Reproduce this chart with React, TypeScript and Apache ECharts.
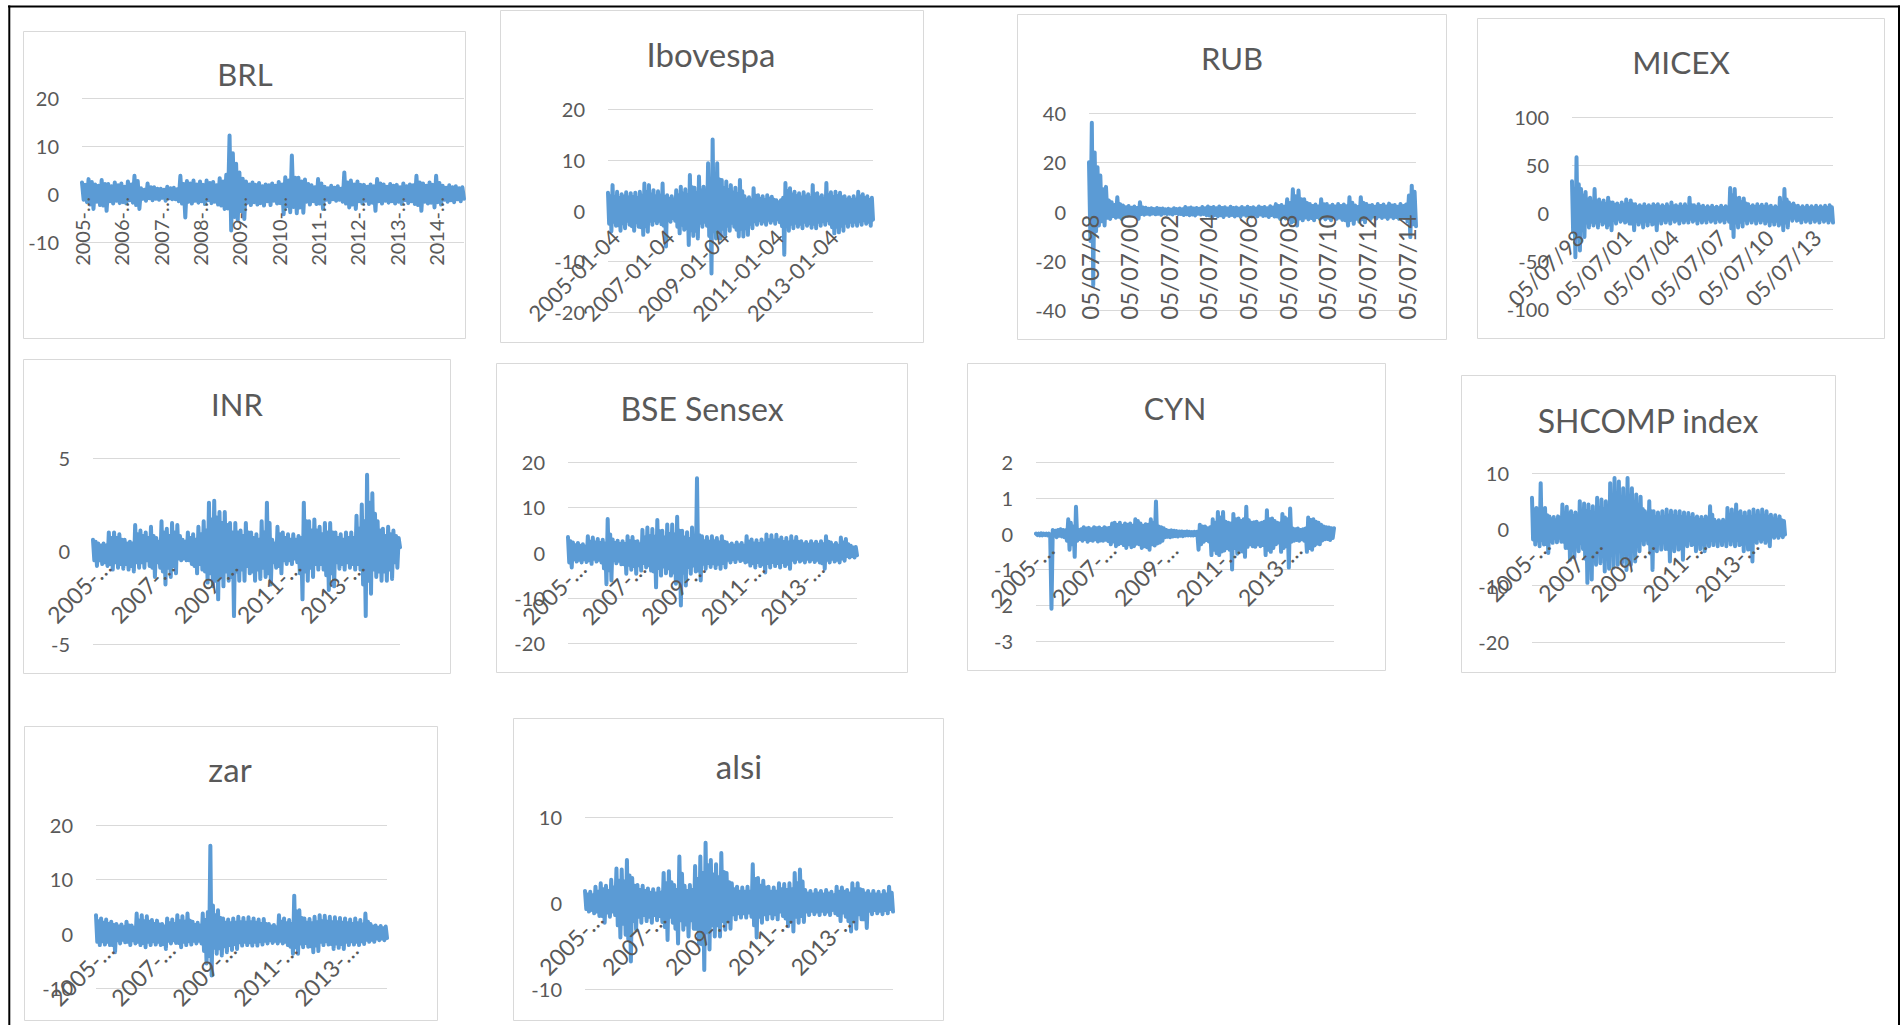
import React, { useEffect, useRef } from "react";
import * as echarts from "echarts";

// ---- daily return series (sampled), one array per market ----
const brlValues = [
  2.4, -1.2, 1.9, -1.7, 3.1, -2.2, 2.5, -3.1, 2.0, -1.6, 1.7, -2.3, 2.9, -2.4, 2.1, -3.5, 2.1, -1.5, 1.6, -2.0,
  2.4, -1.4, 1.8, -1.9, 2.2, -1.7, 1.5, -2.0, 2.6, -1.3, 2.0, -1.8, 3.8, -2.3, 2.7, -3.1, 1.2, -1.0, 0.9, -1.4,
  2.2, -0.9, 1.4, -1.3, 1.4, -1.0, 1.1, -1.2, 1.1, -0.8, 0.9, -1.4, 1.5, -0.9, 1.2, -1.1, 1.3, -1.1, 1.0, -1.5,
  3.8, -2.0, 2.1, -4.9, 2.7, -1.6, 2.2, -2.0, 2.8, -1.4, 2.0, -1.8, 2.6, -1.5, 1.9, -2.1, 2.8, -1.3, 2.3, -1.9,
  2.5, -1.6, 1.8, -2.2, 3.3, -2.4, 2.6, -3.1, 4.0, -3.0, 12.2, -7.6, 8.5, -4.8, 6.3, -5.5, 4.5, -3.6, 3.2, -5.2,
  2.6, -1.8, 2.0, -2.3, 2.4, -1.7, 1.9, -2.2, 2.3, -1.9, 1.6, -2.4, 2.0, -1.5, 1.8, -2.3, 2.2, -1.4, 1.7, -2.0,
  2.5, -1.9, 2.0, -4.2, 3.5, -2.6, 2.8, -3.8, 8.0, -2.7, 3.4, -4.0, 3.4, -2.8, 2.6, -3.9, 3.0, -1.6, 2.1, -2.2,
  1.8, -1.5, 1.4, -2.1, 3.1, -2.0, 2.2, -3.1, 1.5, -1.2, 1.2, -1.7, 1.7, -1.1, 1.3, -1.4, 1.6, -1.2, 1.1, -1.6,
  4.5, -2.0, 2.4, -2.8, 2.8, -2.2, 2.0, -3.1, 2.6, -1.5, 1.9, -2.0, 1.9, -1.4, 1.5, -2.1, 2.0, -1.8, 1.6, -3.5,
  3.1, -1.5, 2.2, -2.0, 2.0, -1.4, 1.5, -1.8, 2.1, -1.5, 1.7, -2.0, 1.9, -1.6, 1.4, -2.1, 2.2, -1.3, 1.6, -1.9,
  2.0, -1.5, 1.8, -2.1, 3.8, -2.3, 2.4, -3.5, 2.2, -1.6, 1.7, -2.0, 2.4, -1.8, 1.9, -2.8, 3.8, -1.7, 2.3, -2.2,
  1.7, -1.2, 1.3, -1.6, 1.8, -1.3, 1.4, -1.7, 1.6, -1.1, 1.2, -1.5, 1.4, -1.0,
];
const ibovespaValues = [
  3.5, -2.6, 2.8, -4.1, 5.0, -2.2, 2.6, -3.0, 3.7, -2.9, 2.4, -4.0, 3.2, -2.5, 2.7, -3.5, 3.6, -2.0, 2.5, -2.8,
  3.4, -3.1, 2.6, -4.0, 3.5, -2.3, 2.4, -3.2, 3.7, -3.3, 2.9, -4.8, 5.3, -3.1, 3.6, -4.2, 5.0, -2.0, 3.1, -2.8,
  4.0, -1.9, 2.7, -2.5, 3.8, -2.0, 2.9, -2.7, 5.3, -3.0, 2.6, -7.1, 3.0, -1.7, 2.2, -2.2, 2.8, -1.5, 2.1, -2.0,
  4.0, -3.2, 2.9, -4.5, 4.7, -2.8, 3.3, -3.8, 4.2, -3.5, 3.0, -6.8, 7.0, -3.9, 4.6, -5.0, 4.5, -4.0, 3.4, -5.5,
  6.7, -2.4, 3.9, -3.2, 4.7, -2.2, 3.5, -3.0, 9.3, -5.0, 6.0, -12.4, 14.0, -4.1, 7.2, -5.5, 9.3, -4.2, 6.1, -5.5,
  6.0, -3.6, 4.4, -4.8, 5.7, -3.0, 4.0, -4.0, 5.0, -2.4, 3.5, -3.2, 4.5, -3.8, 3.2, -5.1, 6.0, -3.6, 3.8, -5.1,
  2.8, -3.5, 2.1, -4.8, 2.6, -2.6, 2.0, -3.5, 4.4, -2.1, 2.9, -2.8, 3.0, -1.9, 2.2, -2.6, 2.8, -2.1, 2.0, -2.8,
  3.0, -1.8, 2.3, -2.4, 2.7, -1.9, 2.1, -2.6, 2.0, -1.7, 1.6, -2.3, 2.0, -3.1, 2.5, -8.7, 5.4, -3.0, 3.8, -4.0,
  4.4, -2.6, 3.1, -3.5, 3.7, -2.4, 2.8, -3.2, 3.4, -2.6, 2.5, -3.5, 3.6, -2.2, 2.7, -3.0, 3.2, -2.5, 2.4, -3.4,
  5.0, -2.6, 3.2, -3.5, 3.4, -2.2, 2.5, -3.0, 3.0, -2.1, 2.3, -2.8, 5.4, -1.9, 3.0, -2.6, 3.6, -3.3, 2.6, -4.5,
  3.7, -3.2, 2.8, -4.3, 3.5, -3.0, 2.6, -4.0, 2.8, -2.4, 2.1, -3.2, 2.6, -2.2, 2.0, -3.0, 2.8, -2.2, 2.1, -3.0,
  3.7, -2.1, 2.7, -2.8, 3.2, -1.9, 2.4, -2.6, 2.8, -2.2, 2.0, -3.0, 2.5, -1.8,
];
const rubValues = [
  20, -12, 36, -30, 24, -8, 18, -5.7, 14.6, -4.0, 9.0, -5.7, 10, -2.5, 4.5, -3.0, 3.8, -1.8, 2.6, -2.5,
  5.8, -2.1, 3.0, -3.0, 2.4, -1.2, 1.7, -1.6, 2.2, -1.0, 1.5, -1.4, 2.0, -1.6, 1.4, -3.0, 3.8, -1.0, 1.6, -1.3,
  1.5, -0.9, 1.1, -1.2, 1.3, -0.8, 1.0, -1.1, 1.4, -0.9, 1.1, -1.3, 1.2, -0.8, 0.9, -1.0, 1.1, -0.9, 0.8, -1.2,
  1.3, -0.7, 1.0, -1.0, 1.2, -1.0, 0.9, -1.4, 1.8, -1.1, 1.3, -1.5, 1.6, -1.2, 1.2, -1.6, 1.4, -0.9, 1.1, -1.2,
  1.8, -1.0, 1.3, -1.5, 2.0, -1.6, 1.5, -2.3, 1.8, -1.4, 1.3, -1.9, 2.0, -1.5, 1.4, -2.2, 1.7, -1.3, 1.2, -1.8,
  1.9, -1.4, 1.4, -2.0, 1.6, -1.5, 1.2, -2.1, 1.8, -1.2, 1.3, -1.7, 1.9, -1.5, 1.4, -2.0, 1.7, -1.3, 1.2, -1.9,
  2.0, -1.2, 1.5, -1.8, 1.8, -1.6, 1.3, -2.2, 2.1, -1.4, 1.6, -2.0, 3.0, -2.0, 2.2, -3.0, 2.6, -2.1, 1.9, -2.8,
  5.0, -3.0, 3.4, -4.5, 9.0, -4.0, 6.2, -5.7, 8.5, -2.8, 5.0, -3.6, 5.0, -2.4, 3.5, -3.2, 3.0, -2.6, 2.2, -3.6,
  2.8, -2.2, 2.0, -3.0, 5.0, -2.3, 2.9, -3.2, 3.0, -2.5, 2.1, -3.6, 2.7, -2.1, 2.0, -3.0, 3.0, -2.4, 2.2, -3.4,
  2.8, -3.6, 2.1, -5.7, 5.8, -3.4, 3.6, -5.0, 2.4, -2.9, 1.8, -4.2, 5.8, -3.1, 3.5, -4.4, 3.0, -2.2, 2.3, -3.0,
  2.6, -2.0, 1.9, -2.8, 3.0, -1.9, 2.2, -2.6, 2.8, -2.1, 2.0, -3.0, 3.2, -2.0, 2.4, -2.7, 2.6, -2.2, 1.9, -3.0,
  3.0, -1.8, 2.2, -2.5, 2.8, -4.0, 6.5, -10.4, 10.5, -5.2, 8.0, -6.0,
];
const micexValues = [
  33, -20, 25, -46, 58, -25, 30, -39, 25, -16, 18, -25, 22, -10, 14, -15, 16, -9, 11, -13,
  25, -10, 12, -15, 14, -8, 10, -12, 13, -10, 9, -15, 16, -12, 11, -18, 11, -7, 8, -11,
  10, -6, 7, -9, 11, -7, 8, -10, 14, -8, 9, -11, 13, -11, 9, -18, 9, -8, 6, -12,
  8, -9, 6, -15, 9, -8, 6, -13, 8, -8, 6, -12, 9, -11, 7, -18, 9, -7, 6, -11,
  8, -7, 6, -10, 9, -7, 6, -11, 11, -6, 7, -9, 8, -7, 6, -11, 9, -7, 6, -10,
  9, -7, 6, -10, 16, -6, 8, -9, 8, -7, 6, -11, 9, -7, 6, -10, 7.5, -7, 5, -10,
  7, -6, 5, -9, 7.5, -7, 5, -10, 6.5, -6, 5, -9, 7.5, -7, 5, -10, 7, -6, 5, -9,
  26, -16, 18, -25, 25, -10, 15, -15, 16, -9, 11, -14, 15, -7, 10, -11, 9, -7, 6, -10,
  8, -7, 6, -11, 9, -7, 6, -10, 8.5, -7, 6, -11, 9, -8, 6, -13, 7.5, -8, 5, -12,
  7, -8, 5, -13, 16, -11, 10, -18, 25, -10, 14, -15, 11, -5, 8, -8, 10, -5, 7, -8,
  7.5, -7, 5, -10, 7, -6, 5, -9, 7.5, -7, 5, -10, 7, -6, 5, -9, 7.5, -7, 5, -10,
  7, -6, 5, -9, 7.5, -7, 5, -10, 8, -7, 6, -10,
];
const inrValues = [
  0.6, -0.5, 0.5, -0.8, 0.4, -0.5, 0.3, -0.7, 0.4, -0.6, 0.3, -0.8, 1.0, -0.7, 0.7, -1.0, 1.0, -0.6, 0.7, -0.9,
  0.9, -0.7, 0.6, -0.95, 0.6, -0.7, 0.4, -1.0, 0.5, -0.8, 0.4, -1.1, 1.4, -0.6, 0.9, -0.9, 1.1, -0.6, 0.8, -0.9,
  1.0, -0.5, 0.7, -0.8, 1.3, -0.9, 0.8, -1.4, 0.7, -0.6, 0.5, -0.9, 1.6, -1.1, 1.0, -1.8, 1.2, -0.9, 0.8, -1.4,
  1.5, -0.8, 1.0, -1.2, 1.4, -0.4, 0.8, -0.5, 0.6, -0.4, 0.5, -0.5, 1.0, -0.5, 0.7, -0.7, 0.9, -0.8, 0.6, -1.2,
  1.3, -0.7, 0.9, -1.0, 1.6, -1.1, 1.1, -1.7, 2.6, -1.2, 1.7, -1.9, 2.7, -1.6, 1.8, -2.6, 2.1, -1.3, 1.5, -1.9,
  2.1, -1.1, 1.4, -1.6, 1.5, -1.4, 1.0, -3.5, 1.5, -1.1, 1.0, -1.6, 1.1, -1.0, 0.8, -1.6, 1.5, -0.8, 1.0, -1.2,
  1.0, -1.1, 0.7, -1.6, 0.9, -1.0, 0.6, -1.5, 1.6, -0.9, 1.0, -1.4, 2.6, -1.2, 1.5, -1.8, 0.6, -0.6, 0.4, -0.9,
  1.3, -0.8, 0.9, -1.2, 1.0, -0.5, 0.7, -0.7, 0.9, -0.5, 0.6, -0.7, 0.9, -0.4, 0.6, -0.6, 0.8, -1.2, 0.7, -2.6,
  2.6, -1.1, 1.6, -1.6, 1.6, -0.9, 1.1, -1.4, 1.7, -0.7, 1.1, -1.0, 1.3, -0.7, 0.9, -1.0, 1.5, -1.3, 1.0, -2.1,
  1.5, -1.2, 1.0, -1.9, 1.0, -0.6, 0.7, -0.95, 0.9, -0.7, 0.6, -1.0, 1.0, -0.6, 0.7, -0.9, 1.0, -0.7, 0.7, -1.0,
  1.9, -0.7, 1.2, -1.0, 2.5, -1.8, 1.6, -3.5, 4.1, -1.6, 2.6, -2.3, 3.1, -1.0, 2.0, -1.4, 1.6, -1.1, 1.1, -1.6,
  1.2, -1.1, 0.8, -1.6, 1.3, -1.0, 0.9, -1.5, 1.1, -0.6, 0.8, -0.9, 0.7, 0.2,
];
const bseValues = [
  3.4, -2.2, 2.5, -3.3, 2.2, -1.5, 1.6, -2.0, 2.1, -1.6, 1.5, -2.2, 1.8, -1.5, 1.3, -2.1, 3.6, -1.7, 2.4, -2.5,
  3.3, -1.4, 2.2, -2.0, 3.0, -1.6, 2.1, -2.2, 2.8, -3.5, 2.0, -7.0, 7.4, -3.9, 4.0, -6.2, 2.9, -1.7, 2.1, -2.4,
  2.6, -1.8, 1.9, -2.6, 2.5, -2.6, 1.9, -4.7, 3.6, -2.7, 2.5, -3.8, 3.4, -3.0, 2.4, -4.7, 2.5, -2.8, 1.8, -4.0,
  5.0, -2.3, 3.3, -3.3, 5.5, -2.8, 3.6, -4.0, 5.2, -4.2, 3.5, -7.7, 7.2, -3.4, 4.7, -5.1, 4.8, -3.1, 3.3, -4.6,
  6.2, -3.5, 4.1, -5.1, 6.2, -4.4, 4.0, -6.9, 7.9, -6.0, 4.8, -11.7, 4.8, -4.5, 3.3, -7.3, 4.5, -3.2, 3.0, -4.7,
  5.5, -2.9, 3.6, -4.2, 16.4, -4.0, 3.8, -6.2, 3.6, -2.5, 2.5, -3.6, 3.4, -2.3, 2.4, -3.2, 3.6, -2.4, 2.5, -3.4,
  3.2, -2.5, 2.2, -3.6, 3.6, -2.3, 2.4, -3.3, 2.2, -1.6, 1.6, -2.2, 2.0, -1.5, 1.5, -2.1, 2.2, -1.3, 1.6, -1.9,
  2.1, -1.6, 1.5, -2.2, 3.6, -2.0, 2.4, -2.9, 2.9, -2.3, 2.0, -3.3, 2.7, -2.1, 1.9, -3.0, 2.9, -2.6, 2.0, -4.4,
  4.0, -2.3, 2.7, -3.3, 3.8, -2.1, 2.6, -3.0, 3.9, -2.3, 2.7, -3.3, 3.3, -2.1, 2.3, -3.0, 3.2, -2.5, 2.2, -3.6,
  3.6, -1.6, 2.4, -2.2, 3.4, -1.4, 2.3, -2.0, 2.5, -1.6, 1.8, -2.2, 2.3, -1.4, 1.7, -2.0, 2.5, -1.5, 1.8, -2.1,
  2.4, -1.6, 1.7, -2.2, 2.5, -2.4, 1.8, -3.6, 3.6, -1.6, 2.4, -2.2, 2.2, -1.4, 1.6, -2.0, 2.1, -1.6, 1.5, -2.2,
  3.3, -1.3, 2.2, -1.8, 3.0, -0.8, 1.8, -1.1, 1.5, -0.8, 1.1, -1.1, 1.2, -0.6,
];
const cynValues = [
  0.0, -0.04, 0.0, -0.05, 0.01, -0.05, 0.0, -0.04, 0.0, -0.05, 0.0, -0.05, -2.1, 0.1, -0.05, 0.08, -0.1, 0.1, -0.06, 0.12,
  -0.08, 0.1, -0.1, 0.09, -0.2, 0.4, -0.45, 0.3, -0.3, 0.2, -0.65, 0.75, -0.2, 0.1, -0.15, 0.12, -0.2, 0.18, -0.15, 0.14,
  -0.23, 0.16, -0.18, 0.12, -0.2, 0.18, -0.16, 0.15, -0.22, 0.17, -0.19, 0.13, -0.2, 0.18, -0.17, 0.15, -0.21, 0.16, -0.3, 0.28,
  -0.22, 0.3, -0.35, 0.24, -0.3, 0.3, -0.26, 0.22, -0.32, 0.28, -0.4, 0.25, -0.3, 0.28, -0.38, 0.22, -0.35, 0.4, -0.28, 0.35,
  -0.3, 0.28, -0.4, 0.22, -0.35, 0.26, -0.38, 0.25, -0.45, 0.4, -0.3, 0.3, -0.33, 0.9, -0.28, 0.2, -0.25, 0.18, -0.2, 0.15,
  -0.1, 0.1, -0.09, 0.08, -0.1, 0.09, -0.08, 0.08, -0.07, 0.07, -0.08, 0.06, -0.06, 0.06, -0.07, 0.05, -0.05, 0.06, -0.05, 0.05,
  -0.05, 0.04, -0.05, 0.05, -0.04, 0.05, -0.45, 0.25, -0.3, 0.2, -0.23, 0.2, -0.18, 0.15, -0.22, 0.18, -0.6, 0.4, -0.45, 0.3,
  -0.55, 0.6, -0.6, 0.45, -0.5, 0.6, -0.47, 0.33, -0.4, 0.3, -0.45, 0.28, -1.0, 0.55, -0.4, 0.4, -0.56, 0.42, -0.45, 0.35,
  -0.5, 0.4, -0.65, 0.75, -0.37, 0.37, -0.3, 0.3, -0.35, 0.32, -0.37, 0.33, -0.3, 0.28, -0.35, 0.3, -0.32, 0.33, -0.6, 0.65,
  -0.45, 0.4, -0.51, 0.42, -0.4, 0.35, -0.3, 0.3, -0.25, 0.28, -0.51, 0.55, -0.4, 0.45, -0.35, 0.4, -0.95, 0.7, -0.23, 0.14,
  -0.2, 0.12, -0.18, 0.14, -0.2, 0.1, -0.16, 0.12, -0.2, 0.14, -0.51, 0.45, -0.4, 0.38, -0.45, 0.4, -0.33, 0.33, -0.28, 0.3,
  -0.3, 0.25, -0.19, 0.2, -0.16, 0.18, -0.15, 0.17, -0.18, 0.15, -0.12, 0.15,
];
const shcompValues = [
  5.6, -1.8, 3.5, -2.7, 3.8, -2.0, 2.6, -3.0, 8.2, -1.9, 3.0, -2.7, 3.8, -2.6, 2.5, -4.2, 2.3, -1.6, 1.7, -2.4,
  2.2, -1.5, 1.6, -2.3, 2.3, -1.5, 1.7, -2.2, 4.4, -2.2, 2.9, -3.3, 4.0, -3.3, 2.8, -5.4, 3.2, -3.1, 2.3, -5.0,
  3.0, -2.6, 2.1, -3.9, 5.0, -2.4, 3.3, -3.5, 4.6, -5.2, 3.1, -9.5, 4.4, -5.0, 3.0, -8.9, 4.1, -3.9, 2.8, -6.3,
  5.6, -3.8, 3.7, -6.0, 5.3, -4.6, 3.6, -7.5, 5.0, -4.3, 3.4, -7.0, 8.2, -4.1, 5.1, -6.8, 9.1, -3.9, 5.6, -6.3,
  8.5, -3.7, 5.4, -6.0, 7.3, -4.4, 4.7, -7.2, 9.1, -3.9, 5.7, -6.3, 7.3, -3.6, 4.7, -5.7, 6.2, -2.6, 4.0, -3.9,
  5.8, -1.9, 3.6, -2.7, 3.2, -1.8, 2.3, -2.5, 5.0, -4.3, 3.2, -7.2, 3.2, -2.6, 2.2, -3.9, 3.0, -2.4, 2.1, -3.6,
  3.2, -2.3, 2.2, -3.5, 3.5, -3.5, 2.4, -5.7, 3.3, -2.6, 2.3, -3.9, 3.2, -2.4, 2.2, -3.6, 3.2, -3.3, 2.2, -5.4,
  3.0, -2.1, 2.1, -3.0, 2.9, -1.9, 2.0, -2.8, 2.7, -2.6, 1.9, -3.9, 2.3, -2.4, 1.6, -3.5, 2.2, -2.6, 1.6, -3.9,
  2.3, -2.0, 1.6, -3.0, 4.1, -1.9, 2.6, -2.8, 1.7, -2.0, 1.2, -3.0, 1.6, -1.9, 1.2, -2.8, 1.7, -2.0, 1.2, -3.0,
  3.8, -1.8, 2.5, -2.7, 3.5, -2.0, 2.4, -3.0, 4.4, -1.9, 2.8, -2.8, 3.2, -2.6, 2.2, -3.9, 3.0, -2.4, 2.1, -3.6,
  3.2, -3.5, 2.2, -5.7, 3.5, -1.7, 2.4, -2.4, 3.3, -1.6, 2.2, -2.2, 3.5, -1.7, 2.4, -2.4, 3.2, -2.0, 2.2, -3.0,
  2.6, -1.1, 1.8, -1.5, 2.5, -1.1, 1.7, -1.5, 2.3, -1.0, 1.6, -1.4, 1.5, -0.9,
];
const zarValues = [
  3.4, -1.5, 2.3, -2.1, 2.8, -1.4, 2.0, -2.0, 2.6, -1.5, 1.8, -2.1, 2.2, -2.1, 1.6, -3.4, 1.8, -1.2, 1.3, -1.8,
  1.7, -1.1, 1.2, -1.6, 2.2, -1.5, 1.5, -2.1, 1.5, -1.2, 1.1, -1.8, 3.7, -1.5, 2.4, -2.1, 3.4, -1.7, 2.3, -2.5,
  3.2, -1.5, 2.2, -2.1, 2.5, -1.4, 1.8, -2.0, 2.4, -1.5, 1.7, -2.1, 1.8, -1.9, 1.3, -2.8, 2.8, -1.3, 1.9, -1.8,
  2.6, -1.2, 1.8, -1.7, 3.4, -1.7, 2.3, -2.5, 3.2, -1.5, 2.2, -2.1, 3.7, -1.4, 2.4, -2.0, 2.2, -1.3, 1.6, -1.8,
  2.0, -1.3, 1.5, -1.8, 3.7, -3.2, 2.5, -5.5, 4.0, -4.1, 16.2, -7.7, 5.2, -2.6, 3.4, -3.7, 4.3, -2.7, 2.9, -4.0,
  2.8, -2.3, 2.0, -3.4, 2.6, -2.1, 1.9, -3.0, 2.8, -1.9, 2.0, -2.8, 3.1, -1.6, 2.1, -2.2, 2.9, -1.5, 2.0, -2.1,
  3.0, -1.6, 2.1, -2.2, 2.8, -1.5, 2.0, -2.2, 2.6, -1.4, 1.8, -2.0, 2.7, -1.3, 1.8, -1.8, 1.8, -1.2, 1.3, -1.7,
  1.6, -1.3, 1.2, -1.8, 3.4, -1.3, 2.2, -1.8, 2.8, -1.5, 1.9, -2.1, 2.5, -2.4, 1.8, -3.7, 7.0, -2.5, 4.1, -3.7,
  4.3, -1.8, 2.9, -2.5, 2.8, -1.7, 2.0, -2.4, 2.7, -2.3, 1.9, -3.4, 3.1, -2.2, 2.1, -3.2, 3.4, -1.5, 2.3, -2.1,
  3.3, -1.4, 2.2, -2.0, 3.1, -1.9, 2.1, -2.8, 3.0, -1.8, 2.1, -2.6, 2.9, -1.9, 2.0, -2.8, 2.8, -1.5, 1.9, -2.1,
  2.6, -1.4, 1.8, -2.0, 2.8, -1.5, 1.9, -2.1, 2.5, -1.4, 1.7, -1.9, 3.7, -1.1, 2.2, -1.5, 1.8, -1.1, 1.3, -1.5,
  1.5, -0.9, 1.1, -1.2, 1.4, -0.9, 1.0, -1.2, 1.3, -0.8,
];
const alsiValues = [
  1.4, -0.7, 1.0, -1.0, 1.3, -0.8, 0.9, -1.2, 1.9, -1.0, 1.3, -1.5, 2.3, -1.5, 1.6, -2.3, 2.0, -1.1, 1.4, -1.6,
  2.7, -1.0, 1.8, -1.4, 4.0, -2.6, 2.6, -4.0, 3.9, -2.4, 2.5, -3.7, 5.0, -4.2, 3.2, -6.8, 2.9, -2.1, 2.0, -3.1,
  2.1, -1.6, 1.5, -2.3, 2.0, -1.4, 1.4, -2.1, 1.7, -1.6, 1.2, -2.3, 1.6, -1.4, 1.1, -2.0, 1.7, -1.5, 1.2, -2.2,
  3.5, -2.8, 2.3, -4.3, 3.7, -1.6, 2.4, -2.3, 2.1, -3.0, 1.5, -4.7, 5.4, -2.0, 3.4, -3.1, 2.0, -2.5, 1.4, -3.9,
  2.1, -2.0, 1.5, -3.0, 4.3, -3.0, 2.8, -4.7, 5.4, -4.8, 3.5, -7.8, 7.0, -3.4, 4.4, -5.4, 5.0, -2.6, 3.3, -3.9,
  4.5, -2.6, 3.0, -3.9, 5.8, -2.1, 3.6, -3.1, 3.5, -2.0, 2.4, -3.0, 2.3, -1.3, 1.6, -1.9, 1.9, -1.2, 1.3, -1.7,
  1.8, -1.2, 1.3, -1.7, 1.9, -1.1, 1.3, -1.6, 4.5, -2.6, 2.8, -4.0, 2.9, -1.6, 2.0, -2.3, 2.6, -1.3, 1.8, -1.9,
  1.9, -1.2, 1.3, -1.8, 1.8, -1.3, 1.3, -1.9, 2.3, -1.0, 1.6, -1.5, 2.2, -1.8, 1.5, -2.7, 2.3, -2.2, 1.6, -3.3,
  3.5, -1.6, 2.3, -2.3, 3.9, -1.5, 2.5, -2.2, 1.5, -1.0, 1.1, -1.4, 1.4, -0.9, 1.0, -1.3, 1.5, -1.0, 1.1, -1.4,
  1.4, -0.9, 1.0, -1.3, 1.5, -1.0, 1.1, -1.4, 1.3, -0.8, 0.9, -1.2, 1.9, -1.4, 1.3, -2.1, 1.8, -1.1, 1.3, -1.6,
  1.5, -2.1, 1.1, -3.3, 2.3, -2.0, 1.6, -3.0, 2.3, -1.3, 1.6, -1.9, 1.5, -1.9, 1.1, -2.9, 1.4, -0.9, 1.0, -1.3,
  1.4, -0.8, 1.0, -1.2, 1.3, -0.9, 0.9, -1.3, 1.4, -0.8, 1.0, -1.2, 1.9, -0.7, 1.2, -1.0,
];

// ---- axis tick labels ----
const brlTicks = ["2005-…", "2006-…", "2007-…", "2008-…", "2009-…", "2010-…", "2011-…", "2012-…", "2013-…", "2014-…"];
const ibovespaTicks = ["2005-01-04", "2007-01-04", "2009-01-04", "2011-01-04", "2013-01-04"];
const rubTicks = ["05/07/98", "05/07/00", "05/07/02", "05/07/04", "05/07/06", "05/07/08", "05/07/10", "05/07/12", "05/07/14"];
const micexTicks = ["05/07/98", "05/07/01", "05/07/04", "05/07/07", "05/07/10", "05/07/13"];
const biennialTicks = ["2005-…", "2007-…", "2009-…", "2011-…", "2013-…"];

// ---- panel layout (pixels) ----
type Panel = {
  name: string;
  values: number[];
  ticks: string[];
  step: number; // samples between labelled ticks
  y: [number, number, number];
  rotate: number;
  label: [number, number, number]; // font size, margin, top padding
  box: [number, number, number, number];
  grid: [number, number, number, number];
  title: [number, number, number];
};

const panels: Panel[] = [
  { name: "BRL", values: brlValues, ticks: brlTicks, step: 24, y: [-10, 20, 10], rotate: 90, label: [20, 3, 0],
    box: [23, 31, 442, 307], grid: [82, 98, 382, 144], title: [245, 74, 31] },
  { name: "Ibovespa", values: ibovespaValues, ticks: ibovespaTicks, step: 48, y: [-20, 20, 10], rotate: 45, label: [22, 15, 0],
    box: [500, 10, 423, 332], grid: [608, 109, 265, 203], title: [711, 54, 33] },
  { name: "RUB", values: rubValues, ticks: rubTicks, step: 28, y: [-40, 40, 20], rotate: 90, label: [24, 3, 0],
    box: [1017, 14, 429, 325], grid: [1089, 113, 327, 197], title: [1232, 58, 31] },
  { name: "MICEX", values: micexValues, ticks: micexTicks, step: 42, y: [-100, 100, 50], rotate: 45, label: [22, 13, 0],
    box: [1477, 18, 407, 320], grid: [1572, 117, 261, 192], title: [1681, 62, 31.5] },
  { name: "INR", values: inrValues, ticks: biennialTicks, step: 48, y: [-5, 5, 5], rotate: 45, label: [23, -2, 8],
    box: [23, 359, 427, 314], grid: [93, 458, 307, 186], title: [237, 404, 31] },
  { name: "BSE Sensex", values: bseValues, ticks: biennialTicks, step: 48, y: [-20, 20, 10], rotate: 45, label: [23, -2, 8],
    box: [496, 363, 411, 309], grid: [568, 462, 289, 181], title: [702, 408, 32] },
  { name: "CYN", values: cynValues, ticks: biennialTicks, step: 48, y: [-3, 2, 1], rotate: 45, label: [23, -2, 8],
    box: [967, 363, 418, 307], grid: [1036, 462, 298, 179], title: [1175, 408, 30.5] },
  { name: "SHCOMP index", values: shcompValues, ticks: biennialTicks, step: 48, y: [-20, 10, 10], rotate: 45, label: [23, -2, 8],
    box: [1461, 375, 374, 297], grid: [1532, 473, 253, 169], title: [1648, 420, 32] },
  { name: "zar", values: zarValues, ticks: biennialTicks, step: 48, y: [-10, 20, 10], rotate: 45, label: [23, -2, 8],
    box: [24, 726, 413, 294], grid: [96, 825, 291, 163], title: [230, 769, 33] },
  { name: "alsi", values: alsiValues, ticks: biennialTicks, step: 48, y: [-10, 10, 10], rotate: 45, label: [23, -2, 8],
    box: [513, 718, 430, 302], grid: [585, 817, 308, 172], title: [739, 766, 33] },
];

const FONT = "Lato, 'Open Sans', sans-serif";
const TEXT = "#595959";
const GRID_LINE = "#d9d9d9";
const LINE_BLUE = "#5B9BD5";

function buildOption() {
  const grid = panels.map((p) => ({
    left: p.grid[0], top: p.grid[1], width: p.grid[2], height: p.grid[3], containLabel: false,
  }));

  // the date axis sits on the zero line of its value axis
  const xAxis = panels.map((p, i) => {
    const zeroFromBottom = (p.grid[3] * (0 - p.y[0])) / (p.y[1] - p.y[0]);
    return {
      gridIndex: i,
      type: "value",
      position: "bottom",
      offset: -zeroFromBottom,
      min: 0,
      max: p.values.length - 1,
      interval: p.step,
      z: 10,
      axisLine: { show: false, onZero: false },
      axisTick: { show: false },
      splitLine: { show: false },
      axisLabel: {
        rotate: p.rotate,
        margin: p.label[1],
        padding: [p.label[2], 0, 0, 0],
        verticalAlign: p.rotate === 90 ? "middle" : "top",
        fontSize: p.label[0],
        fontFamily: FONT,
        color: TEXT,
        formatter: (v: number) => {
          const k = v / p.step;
          return Number.isInteger(k) && k < p.ticks.length ? p.ticks[k] : "";
        },
      },
    };
  });

  const yAxis = panels.map((p, i) => ({
    gridIndex: i,
    type: "value",
    min: p.y[0],
    max: p.y[1],
    interval: p.y[2],
    axisLine: { show: false },
    axisTick: { show: false },
    splitLine: { show: true, lineStyle: { color: GRID_LINE, width: 1 } },
    axisLabel: { margin: 23, fontSize: 20, fontFamily: FONT, color: TEXT },
  }));

  const series = panels.map((p, i) => ({
    name: p.name,
    type: "line",
    xAxisIndex: i,
    yAxisIndex: i,
    data: p.values.map((v, j) => [j, v]),
    symbol: "none",
    showSymbol: false,
    silent: true,
    z: 2,
    lineStyle: { color: LINE_BLUE, width: 4, join: "round", cap: "round" },
  }));

  const frame = [
    { type: "line", shape: { x1: 8, y1: 6.5, x2: 1900, y2: 6.5 }, style: { stroke: "#000", lineWidth: 2 } },
    { type: "line", shape: { x1: 9.3, y1: 5.5, x2: 9.3, y2: 1025 }, style: { stroke: "#000", lineWidth: 2 } },
    { type: "line", shape: { x1: 1899, y1: 5.5, x2: 1899, y2: 1025 }, style: { stroke: "#000", lineWidth: 2 } },
  ];

  const boxes = panels.map((p) => ({
    type: "rect",
    shape: { x: p.box[0] + 0.5, y: p.box[1] + 0.5, width: p.box[2], height: p.box[3] },
    style: { fill: "none", stroke: GRID_LINE, lineWidth: 1 },
    z: -1,
  }));

  const titles = panels.map((p) => ({
    type: "text",
    x: p.title[0],
    y: p.title[1],
    style: {
      text: p.name,
      fill: TEXT,
      fontSize: p.title[2],
      fontFamily: FONT,
      align: "center",
      verticalAlign: "middle",
      textAlign: "center",
      textVerticalAlign: "middle",
    },
  }));

  return {
    animation: false,
    backgroundColor: "#ffffff",
    grid,
    xAxis,
    yAxis,
    series,
    graphic: [...boxes, ...frame, ...titles],
  };
}

export default function App() {
  const ref = useRef<HTMLDivElement>(null);

  useEffect(() => {
    if (!ref.current) return;
    const chart = echarts.init(ref.current, undefined, { renderer: "svg" });
    chart.setOption(buildOption() as any);
    return () => chart.dispose();
  }, []);

  return (
    <div
      ref={ref}
      style={{ position: "fixed", left: 0, top: 0, width: 1903, height: 1025, background: "#fff" }}
    />
  );
}
